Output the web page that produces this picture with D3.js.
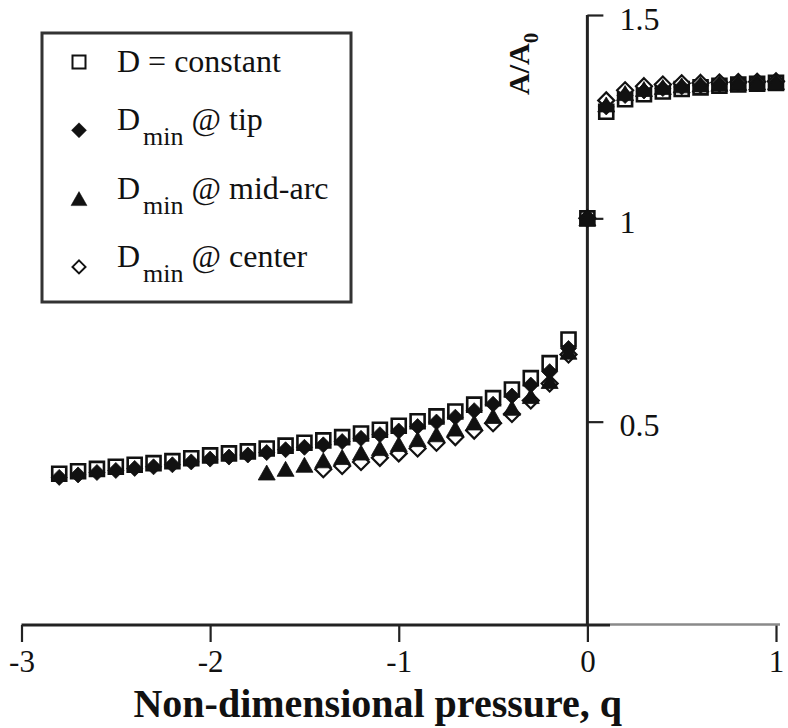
<!DOCTYPE html>
<html lang="en">
<head>
  <meta charset="UTF-8">
  <title>A/A0 vs non-dimensional pressure</title>
  <script src="https://d3js.org/d3.v7.min.js"></script>
  <style>
    body { margin: 0; background: #fff; }
    svg text { font-family: 'Liberation Serif', 'Times New Roman', Times, 'DejaVu Serif', serif; fill: #111; }
  </style>
</head>
<body>
<script type="text/javascript">
    // ---- data ----
    var qConst = [-2.8,-2.7,-2.6,-2.5,-2.4,-2.3,-2.2,-2.1,-2.0,-1.9,-1.8,-1.7,-1.6,-1.5,-1.4,-1.3,-1.2,-1.1,-1.0,
                  -0.9,-0.8,-0.7,-0.6,-0.5,-0.4,-0.3,-0.2,-0.1,0,0.1,0.2,0.3,0.4,0.5,0.6,0.7,0.8,0.9,1.0];
    var aConst = [0.372,0.378,0.384,0.389,0.394,0.398,0.403,0.410,0.417,0.422,0.427,0.434,0.441,0.448,0.454,0.462,0.471,0.480,0.490,
                  0.501,0.513,0.525,0.542,0.558,0.579,0.607,0.644,0.702,1.0,1.262,1.293,1.305,1.312,1.318,1.322,1.326,1.329,1.331,1.333];
    var qTip = qConst;
    var aTip   = [0.363,0.369,0.375,0.380,0.385,0.389,0.394,0.401,0.408,0.413,0.418,0.424,0.431,0.437,0.443,0.451,0.459,0.468,0.477,
                  0.488,0.499,0.511,0.527,0.543,0.563,0.590,0.623,0.680,1.0,1.274,1.302,1.313,1.319,1.323,1.326,1.329,1.331,1.333,1.334];
    var qMid = [-1.7,-1.6,-1.5,-1.4,-1.3,-1.2,-1.1,-1.0,-0.9,-0.8,-0.7,-0.6,-0.5,-0.4,-0.3,-0.2,-0.1,
                0,0.1,0.2,0.3,0.4,0.5,0.6,0.7,0.8,0.9,1.0];
    var aMid   = [0.375,0.384,0.394,0.405,0.413,0.424,0.435,0.445,0.457,0.469,0.483,0.498,0.514,0.534,0.563,0.600,0.672,
                  1.0,1.280,1.308,1.318,1.323,1.327,1.329,1.331,1.333,1.334,1.335];
    var qCenter = [-1.4,-1.3,-1.2,-1.1,-1.0,-0.9,-0.8,-0.7,-0.6,-0.5,-0.4,-0.3,-0.2,-0.1,
                   0,0.1,0.2,0.3,0.4,0.5,0.6,0.7,0.8,0.9,1.0];
    var aCenter = [0.383,0.391,0.401,0.411,0.422,0.434,0.448,0.462,0.478,0.496,0.519,0.552,0.594,0.665,
                   1.0,1.290,1.315,1.325,1.329,1.332,1.333,1.334,1.335,1.336,1.337];

    var xTicks = [-3,-2,-1,0,1];
    var yTicks = [0.5,1,1.5];
    var legendLabels = [["D = constant"], ["D","min"," @ tip"], ["D","min"," @ mid-arc"], ["D","min"," @ center"]];

    var serif = "'Liberation Serif', 'Times New Roman', Times, 'DejaVu Serif', serif";
    var width = 788, height = 728;
    var svg = d3.select("body").append("svg")
                .attr("width", width)
                .attr("height", height)
                .style("font-family", serif);

    var x = d3.scaleLinear().domain([-3, 1]).range([21.5, 776]);
    var y = d3.scaleLinear().domain([0, 1.5]).range([625, 15]);

    // marker shapes
    function square(r){ return "M" + (-r) + "," + (-r) + "h" + 2*r + "v" + 2*r + "h" + (-2*r) + "Z"; }
    function diamond(r){ return "M0," + (-r) + "L" + r + ",0L0," + r + "L" + (-r) + ",0Z"; }
    function triangle(r){ return "M0," + (-r) + "L" + (r+1) + "," + r + "L" + (-r-1) + "," + r + "Z"; }

    var series = [
      {q: qConst,  a: aConst,  path: square(7),    fill: "#fff", stroke: "#111", sw: 2.6},
      {q: qCenter, a: aCenter, path: diamond(8),   fill: "#fff", stroke: "#111", sw: 2.2},
      {q: qTip,    a: aTip,    path: diamond(8),   fill: "#111", stroke: "#111", sw: 0.8},
      {q: qMid,    a: aMid,    path: triangle(7.5), fill: "#111", stroke: "#111", sw: 0.8}
    ];

    // ---- axes ----
    var axisColor = "#222";

    var xAxis = svg.append("g")
       .attr("transform", "translate(0," + y(0) + ")")
       .call(d3.axisBottom(x).tickValues(xTicks).tickSize(17).tickSizeOuter(0)
             .tickFormat(function(d){ return String(d); }));
    xAxis.attr("font-family", null).attr("font-size", null);
    xAxis.select(".domain").remove();
    xAxis.selectAll(".tick line").attr("stroke", axisColor).attr("stroke-width", 2.2);
    xAxis.selectAll(".tick text")
         .attr("y", 47).attr("dy", 0)
         .style("font-size", "31px")
         .style("font-family", serif)
         .attr("fill", "#111");
    // axis line (scan shows a lighter stretch right of zero)
    svg.append("line")
       .attr("x1", x(-3)).attr("x2", x(0.12))
       .attr("y1", y(0)).attr("y2", y(0))
       .attr("stroke", axisColor).attr("stroke-width", 3);
    svg.append("line")
       .attr("x1", x(0.12)).attr("x2", x(1) + 4)
       .attr("y1", y(0) - 0.5).attr("y2", y(0) - 0.5)
       .attr("stroke", "#8a8a8a").attr("stroke-width", 2.5);

    var yAxis = svg.append("g")
       .attr("transform", "translate(" + x(0) + ",0)")
       .call(d3.axisRight(y).tickValues(yTicks).tickSize(16).tickSizeOuter(0)
             .tickFormat(function(d){ return String(d); }));
    yAxis.attr("font-family", null).attr("font-size", null);
    yAxis.select(".domain").attr("stroke", axisColor).attr("stroke-width", 3)
         .attr("d", "M0," + y(0) + "V" + y(1.5));
    yAxis.selectAll(".tick line").attr("stroke", axisColor).attr("stroke-width", 2.2);
    yAxis.selectAll(".tick text")
         .attr("x", 32).attr("dy", 14)
         .attr("text-anchor", "start")
         .style("font-size", "32px")
         .style("font-family", serif)
         .attr("fill", "#111");

    // axis titles
    svg.append("text")
       .attr("x", (x(-3) + x(1)) / 2 - 21)
       .attr("y", 717)
       .attr("text-anchor", "middle")
       .style("font-size", "40px")
       .style("font-weight", "bold")
       .style("font-family", serif)
       .text("Non-dimensional pressure, q");

    var yTitle = svg.append("text")
       .attr("transform", "translate(529,95) rotate(-90)")
       .style("font-size", "30px")
       .style("font-weight", "bold")
       .style("font-family", serif);
    yTitle.append("tspan").text("A/A");
    yTitle.append("tspan").attr("dy", 9).style("font-size", "21px").text("0");

    // ---- markers ----
    series.forEach(function(s){
      svg.append("g").selectAll("path")
         .data(s.q.map(function(q, i){ return [q, s.a[i]]; }))
         .enter().append("path")
         .attr("d", s.path)
         .attr("transform", function(d){ return "translate(" + x(d[0]) + "," + y(d[1]) + ")"; })
         .attr("fill", s.fill)
         .attr("stroke", s.stroke)
         .attr("stroke-width", s.sw);
    });

    // ---- legend ----
    var legend = svg.append("g");
    legend.append("rect")
       .attr("x", 42).attr("y", 33).attr("width", 309).attr("height", 269)
       .attr("fill", "#fff").attr("stroke", "#333").attr("stroke-width", 3);

    var legendSym = [
      {path: square(6.5),  fill: "#fff", sw: 2},
      {path: diamond(7.5), fill: "#111", sw: 0.5},
      {path: triangle(7),  fill: "#111", sw: 0.5},
      {path: diamond(6.5), fill: "#fff", sw: 2}
    ];
    var rows = legend.selectAll("g.row").data(legendLabels).enter().append("g")
       .attr("class", "row")
       .attr("transform", function(d, i){ return "translate(0," + (62 + i * 68.3) + ")"; });
    rows.append("path")
       .attr("d", function(d, i){ return legendSym[i].path; })
       .attr("transform", "translate(79,0)")
       .attr("fill", function(d, i){ return legendSym[i].fill; })
       .attr("stroke", "#111")
       .attr("stroke-width", function(d, i){ return legendSym[i].sw; });
    rows.each(function(d){
      var t = d3.select(this).append("text")
         .attr("x", 117)
         .style("font-size", "32px")
         .style("font-family", serif);
      if (d.length === 1) {
        t.attr("y", 10).text(d[0]);
      } else {
        t.attr("y", 0);
        t.append("tspan").text(d[0]);
        t.append("tspan").attr("dx", 3).attr("dy", 15).style("font-size", "26px").text(d[1]);
        t.append("tspan").attr("dy", -15).text(d[2]);
      }
    });
</script>
</body>
</html>
